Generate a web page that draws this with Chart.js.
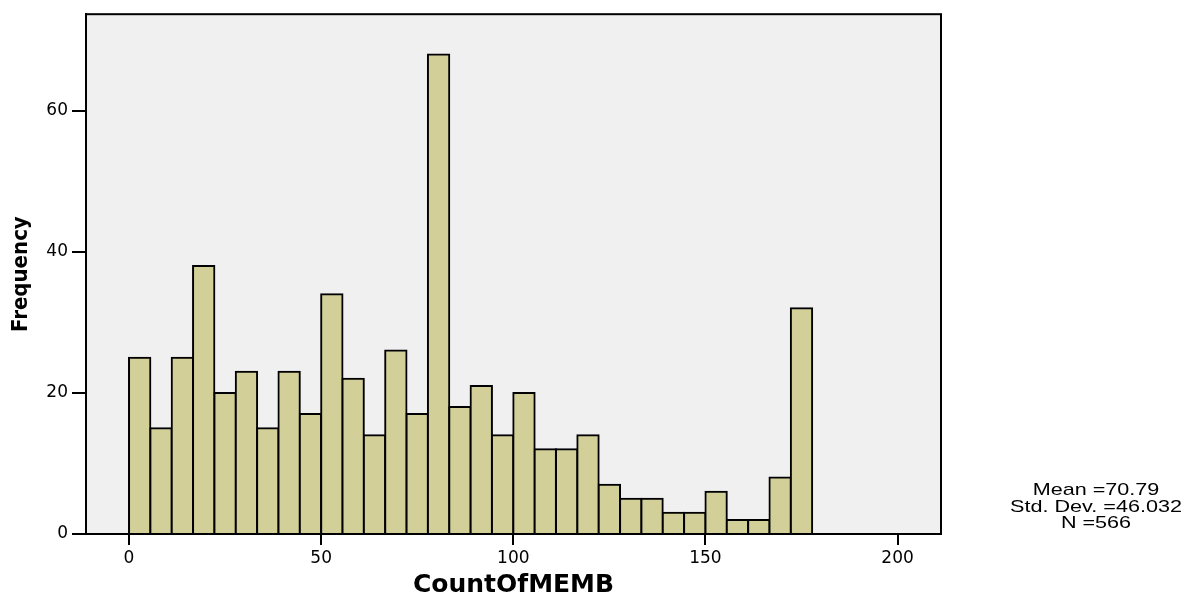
<!DOCTYPE html>
<html>
<head>
<meta charset="utf-8">
<script src="https://cdn.jsdelivr.net/npm/chart.js@4"></script>
<style>
  html, body { margin: 0; padding: 0; background: #fff; }
  #wrap { position: relative; width: 1196px; height: 596px; }
  #stats {
    position: absolute; left: 1006px; top: 482px; width: 180px;
    font-family: "Liberation Sans", Arial, sans-serif; font-size: 17px;
    line-height: 16.5px; text-align: center; color: #000;
    transform: scaleX(1.27); transform-origin: 90px 0;
  }
</style>
</head>
<body>
<div id="wrap">
  <canvas id="hist" width="1196" height="596"></canvas>
  <div id="stats">Mean =70.79<br>Std. Dev. =46.032<br>N =566</div>
</div>
<script>
// bin midpoints (CountOfMEMB), bin width 50/9
const binCenters = [2.78, 8.33, 13.89, 19.44, 25.00, 30.56, 36.11, 41.67, 47.22, 52.78,
  58.33, 63.89, 69.44, 75.00, 80.56, 86.11, 91.67, 97.22, 102.78, 108.33,
  113.89, 119.44, 125.00, 130.56, 136.11, 141.67, 147.22, 152.78, 158.33, 163.89,
  169.44, 175.00];
const frequency = [25, 15, 25, 38, 20, 23, 15, 23, 17, 34,
  22, 14, 26, 17, 68, 18, 21, 14, 20, 12,
  12, 14, 7, 5, 5, 3, 3, 6, 2, 2,
  8, 32];

const tickFont = { family: 'DejaVu Sans', size: 17 };

const plotFrame = {
  id: 'plotFrame',
  beforeDraw(chart) {
    const { ctx, chartArea: a } = chart;
    ctx.save();
    ctx.fillStyle = '#f0f0f0';
    ctx.fillRect(a.left, a.top, a.right - a.left, a.bottom - a.top);
    ctx.restore();
  },
  afterDatasetsDraw(chart) {
    const { ctx, chartArea: a } = chart;
    ctx.save();
    ctx.strokeStyle = '#000';
    ctx.lineWidth = 2;
    ctx.strokeRect(a.left, a.top, a.right - a.left, a.bottom - a.top);
    ctx.restore();
  },
};

const ctx = document.getElementById('hist').getContext('2d');
const hist = new Chart(ctx, {
  type: 'bar',
  data: {
    datasets: [
      {
        data: binCenters.map((x, i) => ({ x: x, y: frequency[i] })),
        backgroundColor: '#d3cf99',
        borderColor: '#000',
        borderWidth: 2,
        inflateAmount: 1,
        barPercentage: 1,
        categoryPercentage: 1,
      },
    ],
  },
  options: {
    responsive: false,
    animation: false,
    layout: { padding: { top: 10, right: 255, left: 0, bottom: 0 } },
    plugins: { legend: { display: false }, tooltip: { enabled: false } },
    scales: {
      x: {
        type: 'linear',
        offset: false,
        min: -11.19,
        max: 211.3,
        afterFit: (s) => { s.height = 62; },
        ticks: { stepSize: 50, includeBounds: false, color: '#000', font: tickFont, padding: 3 },
        grid: { offset: false, drawOnChartArea: false, tickLength: 11, color: '#000', lineWidth: 2 },
        border: { color: '#000', width: 2 },
        title: {
          display: true,
          text: 'CountOfMEMB',
          color: '#000',
          font: { family: 'DejaVu Sans', size: 25, weight: 'bold', lineHeight: 1 },
          padding: { top: 0, bottom: -2 },
        },
      },
      y: {
        min: 0,
        max: 73.7,
        afterFit: (s) => { s.width = 86; },
        ticks: { stepSize: 20, includeBounds: false, color: '#000', font: tickFont, padding: 4 },
        grid: { drawOnChartArea: false, tickLength: 14, color: '#000', lineWidth: 2 },
        border: { color: '#000', width: 2 },
        title: {
          display: true,
          text: 'Frequency',
          color: '#000',
          font: { family: "'DejaVu Sans Condensed', 'Liberation Sans', sans-serif", size: 22, weight: 'bold', lineHeight: 1.1 },
          padding: { top: 9, bottom: 0 },
        },
      },
    },
  },
  plugins: [plotFrame],
});
</script>
</body>
</html>
